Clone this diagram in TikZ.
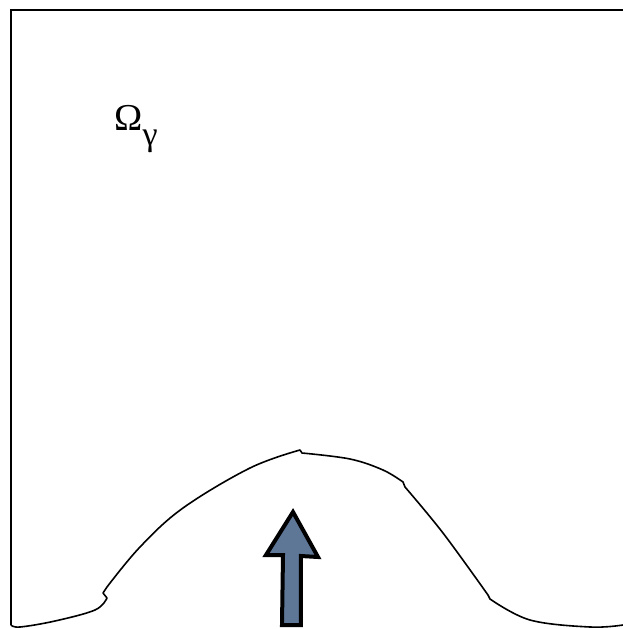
\documentclass[tikz,border=0pt]{standalone}
\usepackage{fontspec}
\setmainfont{Liberation Serif}
\usetikzlibrary{positioning}
\definecolor{ArrowSlate}{HTML}{5F7797}

\begin{document}
\begin{tikzpicture}[x=0.5pt,y=-0.5pt,
  wall/.style={line width=1.1pt},
  front/.style={line width=0.8pt,line join=round},
  pusharrow/.style={draw,line width=2pt,fill=ArrowSlate,line join=miter}]
  \useasboundingbox (0,0) rectangle (623,629);
  % domain edges
  \draw[wall] (623,10) -- (11,10) -- (11,625);
  % moving front
  \draw[front] plot[smooth,tension=0.6] coordinates {(11,625) (20,627) (55,621) (95,610) (107,598)}
    -- (103,593) -- (107,587)
    -- plot[smooth,tension=0.6] coordinates {(107,587) (140,547) (183,508) (250,468) (300,450)}
    -- (302,453)
    -- plot[smooth,tension=0.6] coordinates {(302,453) (350,459) (383,470) (403,482)}
    -- (405,487)
    -- plot[smooth,tension=0.6] coordinates {(405,487) (443,533) (488,595)}
    -- (490,599)
    -- plot[smooth,tension=0.6] coordinates {(490,599) (530,620) (590,627) (623,625)};
  \node[anchor=base west,inner sep=0pt,font=\fontsize{19}{22}\selectfont] (omega) at (114,130)
    {Ω\raisebox{-7.5pt}{\fontsize{17}{20}\selectfont γ}};
  % growth direction
  \draw[pusharrow] (293,512) -- (318,557) -- (301,556) -- (301,625) -- (282,625)
    -- (283,555) -- (266,555) -- cycle;
\end{tikzpicture}
\end{document}
